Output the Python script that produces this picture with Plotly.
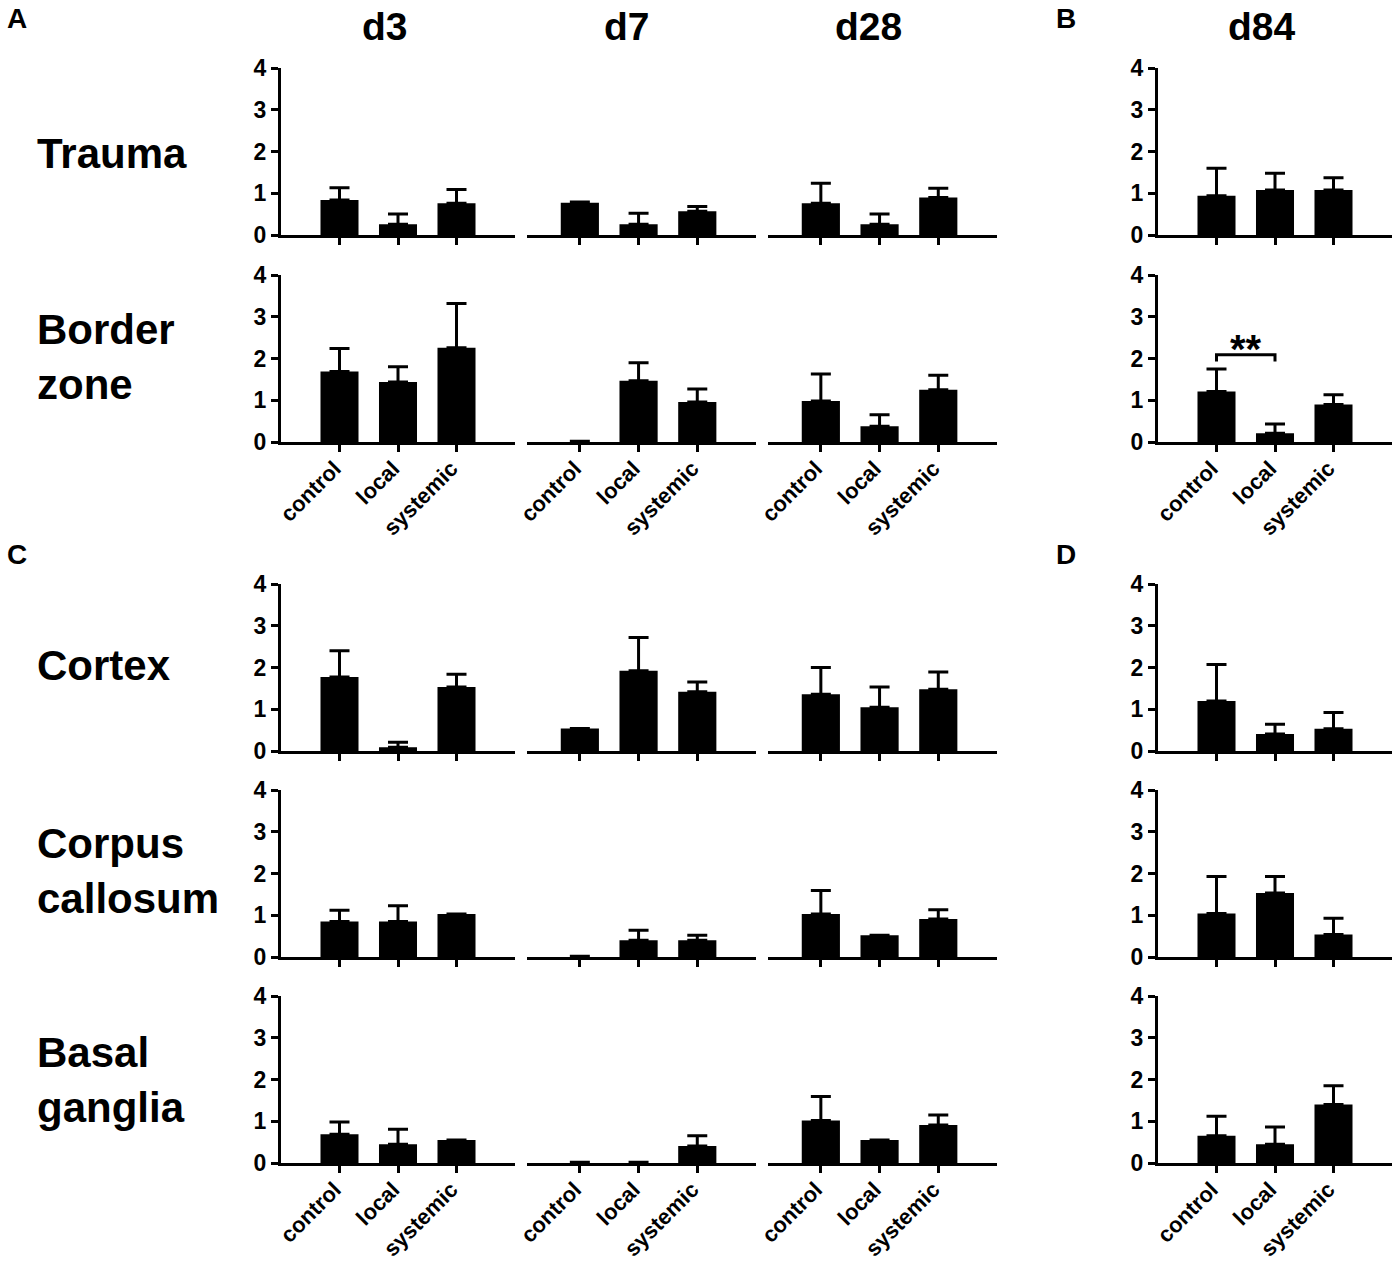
import plotly.graph_objects as go
from plotly.subplots import make_subplots

# score per group (mean bar height and upward SEM)
days = ["d3", "d7", "d28", "d84"]
groups = ["control", "local", "systemic"]
regions = ["Trauma", "Border<br>zone", "Cortex", "Corpus<br>callosum", "Basal<br>ganglia"]

# one row of values per day: d3, d7, d28, d84
trauma_mean = [[0.84, 0.26, 0.76], [0.77, 0.26, 0.57], [0.76, 0.26, 0.90], [0.94, 1.08, 1.08]]
trauma_sem = [[0.29, 0.24, 0.33], [0.02, 0.26, 0.11], [0.48, 0.24, 0.22], [0.66, 0.40, 0.29]]

border_mean = [[1.69, 1.44, 2.26], [0.00, 1.47, 0.96], [0.98, 0.38, 1.25], [1.21, 0.21, 0.90]]
border_sem = [[0.55, 0.36, 1.06], [0.02, 0.43, 0.31], [0.65, 0.27, 0.35], [0.54, 0.22, 0.23]]

cortex_mean = [[1.77, 0.09, 1.53], [0.54, 1.92, 1.42], [1.36, 1.05, 1.48], [1.20, 0.41, 0.53]]
cortex_sem = [[0.63, 0.12, 0.31], [0.00, 0.80, 0.23], [0.64, 0.48, 0.41], [0.87, 0.23, 0.39]]

corpus_mean = [[0.85, 0.85, 1.03], [0.00, 0.40, 0.40], [1.03, 0.52, 0.91], [1.04, 1.53, 0.54]]
corpus_sem = [[0.27, 0.38, 0.00], [0.02, 0.24, 0.12], [0.56, 0.00, 0.22], [0.89, 0.40, 0.39]]

basal_mean = [[0.69, 0.45, 0.55], [0.00, 0.00, 0.41], [1.02, 0.55, 0.91], [0.65, 0.45, 1.40]]
basal_sem = [[0.29, 0.36, 0.00], [0.02, 0.02, 0.24], [0.57, 0.00, 0.24], [0.47, 0.41, 0.45]]

# significance: control vs local at d84, border zone
sig_label = "**"
sig_level = 2.09

means = [trauma_mean, border_mean, cortex_mean, corpus_mean, basal_mean]
sems = [trauma_sem, border_sem, cortex_sem, corpus_sem, basal_sem]

W, H = 1400, 1268
FONT = "Liberation Sans, Arial, sans-serif"

# panel placement in pixels of the reference
col_px = [(281, 515), (527, 756), (768, 997), (1158, 1392)]
col_range = [[-1, 3], [-0.9, 3], [-0.9, 3], [-1, 3]]
row_px = [(68, 235), (275, 442), (584, 751), (790, 957), (996, 1163)]
label_rows = [1, 4]  # rows (0-based) that show group names

fig = make_subplots(rows=5, cols=4)

for r in range(5):
    for c in range(4):
        fig.add_trace(
            go.Bar(
                x=[0, 1, 2],
                y=means[r][c],
                width=0.65,
                marker=dict(color="black", line=dict(width=0)),
                error_y=dict(
                    type="data",
                    symmetric=False,
                    array=sems[r][c],
                    arrayminus=[0, 0, 0],
                    color="black",
                    thickness=3,
                    width=10,
                ),
                showlegend=False,
                hoverinfo="skip",
            ),
            row=r + 1,
            col=c + 1,
        )
        idx = r * 4 + c + 1
        x0, x1 = col_px[c]
        y_top, y_bot = row_px[r]
        fig.layout[f"xaxis{idx if idx > 1 else ''}"].update(
            domain=[x0 / W, x1 / W],
            range=col_range[c],
            tickvals=[0, 1, 2],
            ticktext=groups,
            showticklabels=r in label_rows,
            tickangle=-45,
            ticklabelshift=-5,
            ticklabelstandoff=-5,
            ticks="outside",
            ticklen=7,
            tickwidth=3,
            tickcolor="black",
            showline=True,
            linewidth=3,
            linecolor="black",
            showgrid=False,
            zeroline=False,
            automargin=False,
            tickfont=dict(family=FONT, size=22, color="black", weight="bold"),
            fixedrange=True,
        )
        fig.layout[f"yaxis{idx if idx > 1 else ''}"].update(
            domain=[1 - y_bot / H, 1 - y_top / H],
            range=[0, 4],
            tickvals=[0, 1, 2, 3, 4],
            visible=c in (0, 3),
            ticks="outside",
            ticklen=7,
            tickwidth=3,
            tickcolor="black",
            showline=True,
            linewidth=3,
            linecolor="black",
            showgrid=False,
            zeroline=False,
            automargin=False,
            tickfont=dict(family=FONT, size=23, color="black", weight="bold"),
            fixedrange=True,
        )

annotations = []

# column headers
header_x = [385, 627, 869, 1262]
for c, d in enumerate(days):
    annotations.append(dict(
        text=d, x=header_x[c] / W, y=1 - 27 / H, xref="paper", yref="paper",
        showarrow=False, xanchor="center", yanchor="middle",
        font=dict(family=FONT, size=39, color="black", weight="bold"),
    ))

# row labels
row_label_y = [153, 357, 666, 871, 1080]
for r, name in enumerate(regions):
    annotations.append(dict(
        text=name, x=35 / W, y=1 - row_label_y[r] / H, xref="paper", yref="paper",
        showarrow=False, xanchor="left", yanchor="middle", align="left",
        font=dict(family=FONT, size=42, color="black", weight="bold"),
    ))

# panel letters
for letter, (px, py) in zip("ABCD", [(5, 18), (1054, 18), (5, 555), (1054, 555)]):
    annotations.append(dict(
        text=letter, x=px / W, y=1 - py / H, xref="paper", yref="paper",
        showarrow=False, xanchor="left", yanchor="middle",
        font=dict(family=FONT, size=28, color="black", weight="bold"),
    ))

# significance star above bracket (border zone, d84 -> subplot 8)
annotations.append(dict(
    text=sig_label, x=0.5, y=sig_level, xref="x8", yref="y8",
    showarrow=False, xanchor="center", yanchor="bottom", yshift=-18,
    font=dict(family=FONT, size=40, color="black", weight="bold"),
))

shapes = [dict(
    type="path", xref="x8", yref="y8",
    path=f"M 0,{sig_level - 0.16} L 0,{sig_level} L 1,{sig_level} L 1,{sig_level - 0.16}",
    line=dict(color="black", width=3),
)]

fig.update_layout(
    width=W,
    height=H,
    margin=dict(l=0, r=0, t=0, b=0, autoexpand=False),
    paper_bgcolor="white",
    plot_bgcolor="white",
    bargap=0.35,
    annotations=annotations,
    shapes=shapes,
    font=dict(family=FONT, color="black"),
)

fig.write_html(
    "out.html",
    config={"displayModeBar": False},
    post_script="document.body.style.margin='0';document.body.style.padding='0';",
)
